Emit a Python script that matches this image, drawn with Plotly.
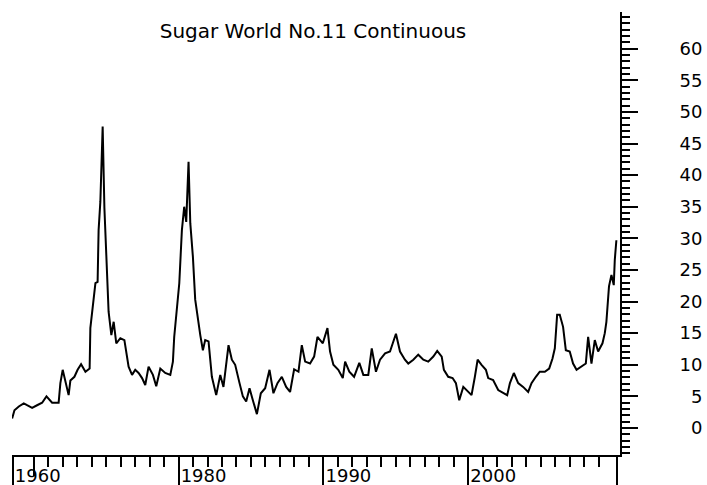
import plotly.graph_objects as go

# Sugar No.11 continuous (year, US cents/lb)
years = [
    1968.51, 1968.67, 1968.97, 1969.31, 1969.54, 1969.89, 1970.23, 1970.58, 1970.88, 1971.27,
    1971.72, 1971.84, 1972.00, 1972.19, 1972.41, 1972.53, 1972.81, 1973.03, 1973.27, 1973.57,
    1973.86, 1973.91, 1974.10, 1974.26, 1974.41, 1974.48, 1974.60, 1974.76, 1974.88, 1975.01,
    1975.17, 1975.36, 1975.52, 1975.70, 1975.98, 1976.26, 1976.55, 1976.79, 1977.01, 1977.24,
    1977.48, 1977.70, 1977.93, 1978.23, 1978.46, 1978.74, 1979.08, 1979.43, 1979.61, 1979.70,
    1979.89, 1980.05, 1980.23, 1980.39, 1980.53, 1980.69, 1980.81, 1980.99, 1981.15, 1981.31,
    1981.50, 1981.68, 1981.84, 1982.07, 1982.30, 1982.60, 1982.88, 1983.10, 1983.45, 1983.68,
    1983.91, 1984.21, 1984.44, 1984.67, 1984.90, 1985.13, 1985.41, 1985.68, 1985.98, 1986.28,
    1986.55, 1986.83, 1987.13, 1987.43, 1987.70, 1987.98, 1988.28, 1988.51, 1988.74, 1989.08,
    1989.36, 1989.59, 1989.96, 1990.28, 1990.46, 1990.69, 1991.03, 1991.34, 1991.50, 1991.79,
    1992.12, 1992.48, 1992.76, 1993.10, 1993.34, 1993.63, 1993.91, 1994.26, 1994.60, 1995.01,
    1995.29, 1995.63, 1995.86, 1996.21, 1996.55, 1996.90, 1997.24, 1997.59, 1997.86, 1998.17,
    1998.32, 1998.62, 1998.92, 1999.15, 1999.38, 1999.66, 1999.89, 2000.23, 2000.46, 2000.65,
    2000.92, 2001.22, 2001.38, 2001.72, 2002.07, 2002.41, 2002.69, 2002.88, 2003.15, 2003.45,
    2003.79, 2004.14, 2004.37, 2004.67, 2004.94, 2005.29, 2005.59, 2005.82, 2005.98, 2006.14,
    2006.32, 2006.55, 2006.74, 2007.01, 2007.24, 2007.48, 2007.82, 2008.12, 2008.28, 2008.51,
    2008.74, 2008.97, 2009.27, 2009.43, 2009.54, 2009.72, 2009.89, 2010.05, 2010.12, 2010.23,
]
price = [
    1.5, 2.8, 3.4, 3.9, 3.6, 3.2, 3.6, 4.0, 5.0, 4.0,
    4.0, 7.1, 9.2, 7.3, 5.2, 7.5, 8.1, 9.2, 10.1, 8.9,
    9.4, 15.8, 19.2, 22.9, 23.1, 31.3, 35.8, 47.7, 34.8, 27.4,
    18.4, 14.7, 16.8, 13.4, 14.2, 13.9, 9.7, 8.4, 9.2, 8.7,
    7.9, 6.8, 9.7, 8.4, 6.6, 9.4, 8.7, 8.4, 10.5, 14.4,
    18.7, 22.9, 31.3, 35.0, 32.6, 42.1, 32.4, 27.1, 20.3, 17.6,
    14.7, 12.3, 13.9, 13.7, 8.1, 5.2, 8.4, 6.5, 13.1, 10.8,
    10.0, 7.1, 5.0, 4.2, 6.3, 4.4, 2.2, 5.5, 6.3, 9.2,
    5.5, 7.1, 8.1, 6.5, 5.7, 9.3, 8.9, 13.1, 10.5, 10.2,
    11.3, 14.4, 13.4, 15.8, 12.1, 10.0, 9.2, 7.9, 10.5, 8.9,
    8.1, 10.3, 8.4, 8.4, 12.6, 8.9, 10.8, 11.8, 12.1, 14.9,
    12.1, 10.8, 10.2, 10.8, 11.6, 10.8, 10.5, 11.3, 12.2, 11.3,
    9.2, 8.1, 7.9, 7.1, 4.4, 6.5, 6.0, 5.2, 8.1, 10.8,
    10.0, 9.2, 7.9, 7.6, 6.0, 5.5, 5.2, 7.1, 8.7, 7.1,
    6.5, 5.7, 7.1, 8.1, 8.9, 8.9, 9.4, 11.0, 12.6, 17.9,
    17.9, 16.0, 12.3, 12.1, 10.2, 9.2, 9.7, 10.2, 14.4, 10.2,
    13.9, 12.1, 13.4, 15.0, 16.8, 22.4, 24.2, 22.6, 26.6, 29.7,
]

x_tick_vals = [1968.55, 1980, 1990, 2000, 2010.25]
x_tick_text = ["1960", "1980", "1990", "2000", ""]
x_minor_vals = [y for y in range(1970, 2010) if y % 10 != 0 or y == 1970]
x_mid_vals = [1970]

y_tick_vals = list(range(0, 70, 5))
y_tick_text = [f"{v:>2}".replace(" ", "\u2007") for v in range(0, 65, 5)] + [""]
y_minor_vals = list(range(-4, 66))

font = dict(family="DejaVu Sans", size=18, color="black")

fig = go.Figure()
fig.add_trace(
    go.Scatter(
        x=years,
        y=price,
        mode="lines",
        line=dict(color="black", width=2),
        showlegend=False,
        hoverinfo="skip",
    )
)
# empty trace so the overlay axis carrying the long ticks gets drawn
fig.add_trace(go.Scatter(x=[], y=[], xaxis="x2", showlegend=False))

fig.update_layout(
    width=707,
    height=485,
    margin=dict(l=12, r=87, t=12, b=30),
    paper_bgcolor="white",
    plot_bgcolor="white",
    font=font,
    title=dict(
        text="Sugar World No.11 Continuous",
        x=313 / 707,
        xanchor="center",
        y=1 - 31 / 485,
        yanchor="middle",
        font=dict(family="DejaVu Sans", size=20, color="black"),
    ),
    xaxis=dict(
        range=[1968.5, 2010.48],
        automargin=False,
        tickmode="array",
        tickvals=x_tick_vals[:-1],
        ticktext=x_tick_text[:-1],
        ticks="outside",
        ticklen=10,
        tickwidth=1.5,
        tickcolor="black",
        ticklabelshift=25,
        ticklabelstandoff=-7,
        showline=True,
        linecolor="black",
        linewidth=2,
        showgrid=False,
        zeroline=False,
        minor=dict(
            tickmode="array",
            tickvals=x_minor_vals,
            ticks="outside",
            ticklen=10,
            tickwidth=1.5,
            tickcolor="black",
            showgrid=False,
        ),
    ),
    xaxis2=dict(
        overlaying="x",
        anchor="y",
        matches="x",
        automargin=False,
        side="bottom",
        tickmode="array",
        tickvals=x_tick_vals,
        ticks="outside",
        ticklen=30,
        tickwidth=1.5,
        tickcolor="black",
        showticklabels=False,
        showline=False,
        showgrid=False,
        zeroline=False,
        minor=dict(
            tickmode="array",
            tickvals=x_mid_vals,
            ticks="outside",
            ticklen=20,
            tickwidth=1.5,
            tickcolor="black",
            showgrid=False,
        ),
    ),
    yaxis=dict(
        side="right",
        range=[-4.27, 65.8],
        automargin=False,
        tickmode="array",
        tickvals=y_tick_vals,
        ticktext=y_tick_text,
        ticks="outside",
        ticklen=16,
        tickwidth=1.5,
        tickcolor="black",
        ticklabelstandoff=38,
        showline=True,
        linecolor="black",
        linewidth=2,
        showgrid=False,
        zeroline=False,
        minor=dict(
            tickmode="array",
            tickvals=y_minor_vals,
            ticks="outside",
            ticklen=8,
            tickwidth=1.5,
            tickcolor="black",
            showgrid=False,
        ),
    ),
)

# drop the page's default body margin so the figure fills the window exactly
fig.write_html(
    "out.html",
    config={"displayModeBar": False},
    post_script="document.body.style.margin='0';document.body.style.overflow='hidden';",
)
